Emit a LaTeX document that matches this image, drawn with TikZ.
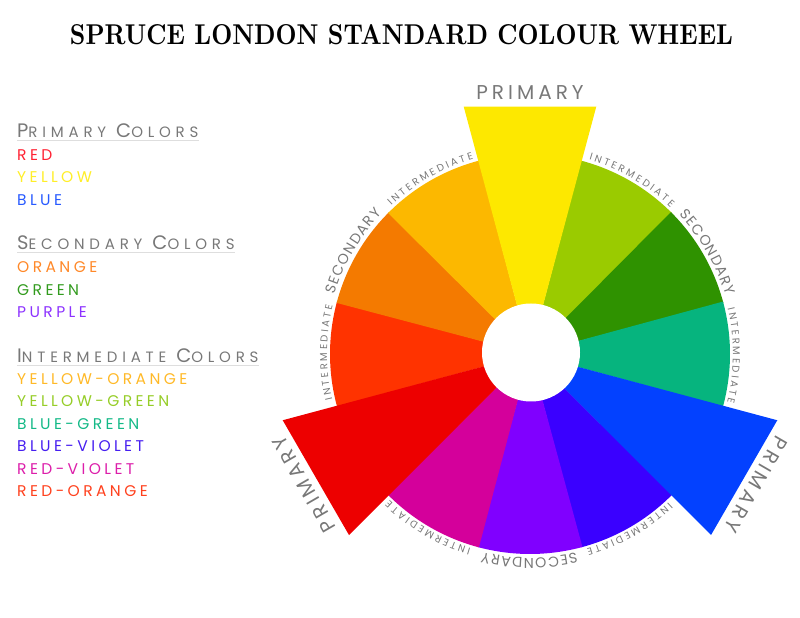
\documentclass[tikz,border=0pt]{standalone}
\usepackage{fontspec}
\usepackage{graphicx}
\usetikzlibrary{decorations.text}
\newfontfamily\wheelfont[LetterSpace=20]{Poppins}
\newfontfamily\legendfont[LetterSpace=22]{Poppins}
\newfontfamily\headfont[LetterSpace=32]{Poppins}
% wheel colours
\definecolor{wyellow}{RGB}{253,232,0}
\definecolor{wyelgreen}{RGB}{154,203,0}
\definecolor{wgreen}{RGB}{47,146,0}
\definecolor{wbluegreen}{RGB}{6,180,126}
\definecolor{wblue}{RGB}{3,65,255}
\definecolor{wblueviolet}{RGB}{58,0,255}
\definecolor{wviolet}{RGB}{128,0,255}
\definecolor{wredviolet}{RGB}{212,0,155}
\definecolor{wred}{RGB}{237,0,0}
\definecolor{wredorange}{RGB}{255,51,0}
\definecolor{worange}{RGB}{244,122,0}
\definecolor{wyelorange}{RGB}{252,184,0}
% legend colours
\definecolor{lred}{RGB}{255,34,51}
\definecolor{lyellow}{RGB}{255,238,40}
\definecolor{lblue}{RGB}{40,90,255}
\definecolor{lorange}{RGB}{255,136,40}
\definecolor{lgreen}{RGB}{50,155,30}
\definecolor{lpurple}{RGB}{140,50,255}
\definecolor{lyelorange}{RGB}{255,185,40}
\definecolor{lyelgreen}{RGB}{150,205,40}
\definecolor{lbluegreen}{RGB}{20,185,135}
\definecolor{lblueviolet}{RGB}{70,30,240}
\definecolor{lredviolet}{RGB}{220,30,170}
\definecolor{lredorange}{RGB}{255,65,30}
\definecolor{labelgray}{RGB}{120,120,120}
\definecolor{rulegray}{RGB}{222,222,222}
\newcommand\lowcaps[1]{{\fontsize{15}{15}\selectfont #1}}
\newcommand\interfont{\wheelfont\fontsize{10}{10}\selectfont\color{labelgray}\kern2.6pt}
\newcommand\secfont{\wheelfont\fontsize{14.3}{14.3}\selectfont\color{labelgray}\kern1.2pt}
\tikzset{
    legitem/.style={anchor=base west, inner sep=0pt, font=\legendfont\fontsize{15.5}{15.5}\selectfont},
    leghead/.style={anchor=base west, inner sep=0pt, text=labelgray, font=\headfont\fontsize{19.5}{19.5}\selectfont},
    primlabel/.style={anchor=base, inner sep=0pt, text=labelgray, font=\wheelfont\fontsize{20}{20}\selectfont},
    interlabel/.style={decorate, decoration={text along path, text align=center, text={|\interfont|INTERMEDIATE}}},
    seclabel/.style={decorate, decoration={text along path, text align=center, text={|\secfont|SECONDARY}}}
}

\begin{document}
\begin{tikzpicture}[x=1pt, y=1pt]

    \useasboundingbox (0,0) rectangle (800,618);

    \node[anchor=base, inner sep=0pt] (title) at (401.5,573) {\resizebox{663pt}{20pt}{\bfseries SPRUCE LONDON STANDARD COLOUR WHEEL}};

    % legend
    \node[leghead] (hprimary) at (17,480) {P\lowcaps{RIMARY}\hspace{10pt}C\lowcaps{OLORS}};
    \draw[rulegray, line width=1] ([yshift=-3]hprimary.base west) -- ([yshift=-3]hprimary.base east);
    \node[legitem, lred] (red) at (17,457) {RED};
    \node[legitem, lyellow] (yellow) at (17,435) {YELLOW};
    \node[legitem, lblue] (blue) at (17,412) {BLUE};

    \node[leghead] (hsecondary) at (17,368) {S\lowcaps{ECONDARY}\hspace{10pt}C\lowcaps{OLORS}};
    \draw[rulegray, line width=1] ([yshift=-3]hsecondary.base west) -- ([yshift=-3]hsecondary.base east);
    \node[legitem, lorange] (orange) at (17,345) {ORANGE};
    \node[legitem, lgreen] (green) at (17,322) {GREEN};
    \node[legitem, lpurple] (purple) at (17,300) {PURPLE};

    \node[leghead] (hintermediate) at (17,255) {I\lowcaps{NTERMEDIATE}\hspace{10pt}C\lowcaps{OLORS}};
    \draw[rulegray, line width=1] ([yshift=-3]hintermediate.base west) -- ([yshift=-3]hintermediate.base east);
    \node[legitem, lyelorange] (yelorange) at (17,233) {YELLOW-ORANGE};
    \node[legitem, lyelgreen] (yelgreen) at (17,211) {YELLOW-GREEN};
    \node[legitem, lbluegreen] (bluegreen) at (17,188) {BLUE-GREEN};
    \node[legitem, lblueviolet] (blueviolet) at (17,166) {BLUE-VIOLET};
    \node[legitem, lredviolet] (redviolet) at (17,143) {RED-VIOLET};
    \node[legitem, lredorange] (redorange) at (17,121) {RED-ORANGE};

    % wheel
    \begin{scope}[shift={(530,264)}]
        \fill[wyelgreen] (0,0) -- (44.8:200) arc[start angle=44.8, end angle=75.2, radius=200] -- cycle;
        \fill[wgreen] (0,0) -- (14.8:200) arc[start angle=14.8, end angle=45.2, radius=200] -- cycle;
        \fill[wbluegreen] (0,0) -- (-15.2:200) arc[start angle=-15.2, end angle=15.2, radius=200] -- cycle;
        \fill[wblueviolet] (0,0) -- (-75.2:200) arc[start angle=-75.2, end angle=-44.8, radius=200] -- cycle;
        \fill[wviolet] (0,0) -- (-105.2:200) arc[start angle=-105.2, end angle=-74.8, radius=200] -- cycle;
        \fill[wredviolet] (0,0) -- (-135.2:200) arc[start angle=-135.2, end angle=-104.8, radius=200] -- cycle;
        \fill[wredorange] (0,0) -- (164.8:200) arc[start angle=164.8, end angle=195.2, radius=200] -- cycle;
        \fill[worange] (0,0) -- (134.8:200) arc[start angle=134.8, end angle=165.2, radius=200] -- cycle;
        \fill[wyelorange] (0,0) -- (104.8:200) arc[start angle=104.8, end angle=135.2, radius=200] -- cycle;

        \fill[wyellow] (0,0) -- (75:256) -- (105:256) -- cycle;
        \fill[wblue] (0,0) -- (-45:256) -- (-15:256) -- cycle;
        \fill[wred] (0,0) -- (195:256) -- (225:256) -- cycle;

        \fill[white] (1,1.5) circle[radius=49];

        \node[primlabel] (ptop) at (90:254) {PRIMARY};
        \node[primlabel, rotate=120] (pred) at (210:254) {PRIMARY};
        \node[primlabel, rotate=-120] (pblue) at (-30:254) {PRIMARY};

        \path[interlabel] (150:203) arc[start angle=150, end angle=90, radius=203];
        \path[seclabel] (180:204) arc[start angle=180, end angle=120, radius=204];
        \path[interlabel] (210:203) arc[start angle=210, end angle=150, radius=203];
        \path[interlabel] (90:203) arc[start angle=90, end angle=30, radius=203];
        \path[seclabel] (60:204) arc[start angle=60, end angle=0, radius=204];
        \path[interlabel] (30:203) arc[start angle=30, end angle=-30, radius=203];
        \path[interlabel] (-30:203) arc[start angle=-30, end angle=-90, radius=203];
        \path[seclabel] (-60:204) arc[start angle=-60, end angle=-120, radius=204];
        \path[interlabel] (-90:203) arc[start angle=-90, end angle=-150, radius=203];
    \end{scope}

\end{tikzpicture}
\end{document}
